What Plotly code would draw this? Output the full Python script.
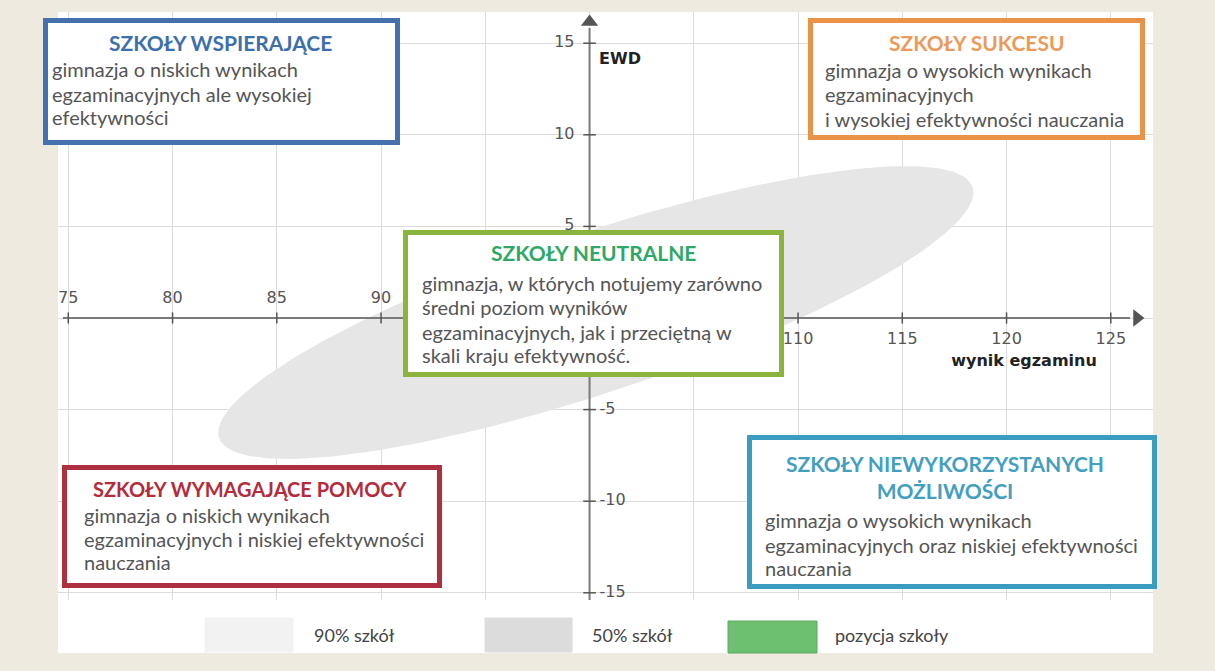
import numpy as np
import plotly.graph_objects as go

W, H = 1215, 671

# ---------------- data ----------------
x_tick_values = [75, 80, 85, 90, 95, 100, 105, 110, 115, 120, 125]
y_tick_values = [-15, -10, -5, 0, 5, 10, 15]
x_labels_above = [75, 80, 85, 90]
x_labels_below = [110, 115, 120, 125]
y_labels_left = [5, 10, 15]
y_labels_right = [-15, -10, -5]

x_axis_title = "wynik egzaminu"
y_axis_title = "EWD"

# 50% schools ellipse (centre, major/minor semi-axis vectors in data units)
ellipse_center = (100.3, 0.3)
ellipse_major = (18.07, 6.84)
ellipse_minor = (1.21, -4.14)

box_titles = [
    "SZKOŁY WSPIERAJĄCE",
    "SZKOŁY SUKCESU",
    "SZKOŁY NEUTRALNE",
    "SZKOŁY WYMAGAJĄCE POMOCY",
    "SZKOŁY NIEWYKORZYSTANYCH<br>MOŻLIWOŚCI",
]
box_bodies = [
    ["gimnazja o niskich wynikach", "egzaminacyjnych ale wysokiej", "efektywności"],
    ["gimnazja o wysokich wynikach", "egzaminacyjnych", "i wysokiej efektywności nauczania"],
    ["gimnazja, w których notujemy zarówno", "średni poziom wyników",
     "egzaminacyjnych, jak i przeciętną w", "skali kraju efektywność."],
    ["gimnazja o niskich wynikach", "egzaminacyjnych i niskiej efektywności", "nauczania"],
    ["gimnazja o wysokich wynikach", "egzaminacyjnych oraz niskiej efektywności", "nauczania"],
]
legend_labels = ["90% szkół", "50% szkół", "pozycja szkoły"]

# ---------------- styles / layout positions ----------------
box_border_colors = ["#4471AE", "#EB9249", "#8AB43E", "#AE2F3F", "#3A9CC1"]
box_title_colors = ["#3D6FAB", "#EA9B5A", "#2FA867", "#B22C3C", "#449FBF"]
# outer pixel rectangles (x0, y0, x1, y1)
box_rects = [
    (43, 18, 400, 145),
    (808, 18, 1145, 140),
    (403, 230, 784, 377),
    (62, 465, 442, 588),
    (747, 435, 1157, 589),
]
title_pos = [(221, 43), (977, 42), (593, 253), (251, 489), (945, 477)]
title_sizes = [21, 21, 21, 20, 21]
body_left = [50, 823, 420, 82, 763]
body_line_y = [
    [69, 94, 117],
    [70, 94, 119],
    [283, 307, 332, 355],
    [515, 539, 562],
    [520, 545, 568],
]
legend_swatch_rects = [(205, 618, 293, 652), (485, 618, 572, 652), (728, 621, 817, 653)]
legend_swatch_colors = ["#F2F2F2", "#DCDCDC", "#6CC070"]
legend_swatch_lines = ["#F2F2F2", "#DCDCDC", "#5DAA62"]
legend_text_x = [312, 590, 833]
legend_text_y = 635

BEIGE = "#EEEAE0"
AXIS_COL = "#7A7A7A"
FONT = "Lato"
BODY_SIZE = 20

# pixel mapping of the reference
X0PX, XPX_PER = 68.3, 20.85   # px of x=75 and px per unit
Y0PX, YPX_PER = 318.0, 18.32  # px of y=0 and px per unit
PLOT_L, PLOT_R, PLOT_T, PLOT_B = 58, 1153, 12, 600

def xv(px):
    return 75 + (px - X0PX) / XPX_PER

def yv(py):
    return (Y0PX - py) / YPX_PER

def XP(px):
    return px / W

def YP(py):
    return 1 - py / H

fig = go.Figure()

# ellipse (50% szkół)
t = np.linspace(0, 2 * np.pi, 241)
ex = ellipse_center[0] + np.cos(t) * ellipse_major[0] + np.sin(t) * ellipse_minor[0]
ey = ellipse_center[1] + np.cos(t) * ellipse_major[1] + np.sin(t) * ellipse_minor[1]
fig.add_trace(go.Scatter(x=ex, y=ey, mode="lines", fill="toself",
                         fillcolor="#E6E6E6", line=dict(width=0, color="#E6E6E6"),
                         hoverinfo="skip", showlegend=False))

# axis lines
x_line_start, x_line_end, x_arrow = xv(63), xv(1130), xv(1137)
y_line_bottom, y_line_top, y_arrow = yv(600), yv(28), yv(22)
fig.add_trace(go.Scatter(x=[x_line_start, x_line_end], y=[0, 0], mode="lines",
                         line=dict(color=AXIS_COL, width=2), hoverinfo="skip", showlegend=False))
fig.add_trace(go.Scatter(x=[100, 100], y=[y_line_bottom, y_line_top], mode="lines",
                         line=dict(color=AXIS_COL, width=2), hoverinfo="skip", showlegend=False))
fig.add_trace(go.Scatter(x=[x_arrow], y=[0], mode="markers",
                         marker=dict(symbol="triangle-right", size=15, color="#555"),
                         hoverinfo="skip", showlegend=False))
fig.add_trace(go.Scatter(x=[100], y=[y_arrow], mode="markers",
                         marker=dict(symbol="triangle-up", size=15, color="#555"),
                         hoverinfo="skip", showlegend=False))

# tick marks
fig.add_trace(go.Scatter(x=x_tick_values, y=[0] * len(x_tick_values), mode="markers",
                         marker=dict(symbol="line-ns", size=8, line=dict(width=1.5, color="#555")),
                         hoverinfo="skip", showlegend=False))
fig.add_trace(go.Scatter(x=[100] * len(y_tick_values), y=y_tick_values, mode="markers",
                         marker=dict(symbol="line-ew", size=9, line=dict(width=1.5, color="#555")),
                         hoverinfo="skip", showlegend=False))

# tick labels
tick_font = dict(family="DejaVu Sans", size=16, color="#555")
fig.add_trace(go.Scatter(x=x_labels_above, y=[19 / YPX_PER] * len(x_labels_above), mode="text",
                         text=[str(v) for v in x_labels_above], textposition="middle center",
                         textfont=tick_font, hoverinfo="skip", showlegend=False))
fig.add_trace(go.Scatter(x=x_labels_below, y=[-22 / YPX_PER] * len(x_labels_below), mode="text",
                         text=[str(v) for v in x_labels_below], textposition="middle center",
                         textfont=tick_font, hoverinfo="skip", showlegend=False))
fig.add_trace(go.Scatter(x=[100 - 15 / XPX_PER] * len(y_labels_left), y=y_labels_left, mode="text",
                         text=[str(v) for v in y_labels_left], textposition="middle left",
                         textfont=tick_font, hoverinfo="skip", showlegend=False))
fig.add_trace(go.Scatter(x=[100 + 10 / XPX_PER] * len(y_labels_right), y=y_labels_right, mode="text",
                         text=[str(v) for v in y_labels_right], textposition="middle right",
                         textfont=tick_font, hoverinfo="skip", showlegend=False))

# axis titles
title_font = dict(family="DejaVu Sans", size=16, color="#222", weight="bold")
fig.add_trace(go.Scatter(x=[xv(620)], y=[yv(60)], mode="text", text=[y_axis_title],
                         textposition="middle center", textfont=title_font,
                         hoverinfo="skip", showlegend=False))
fig.add_trace(go.Scatter(x=[xv(1024)], y=[yv(362)], mode="text", text=[x_axis_title],
                         textposition="middle center", textfont=title_font,
                         hoverinfo="skip", showlegend=False))

shapes = []
annotations = []

# white legend strip
shapes.append(dict(type="rect", xref="paper", yref="paper", layer="below",
                   x0=XP(PLOT_L), x1=XP(PLOT_R), y0=YP(653), y1=YP(PLOT_B),
                   fillcolor="white", line=dict(width=0)))

# boxes
BW = 5
for i, (x0, y0, x1, y1) in enumerate(box_rects):
    shapes.append(dict(type="rect", xref="paper", yref="paper", layer="above",
                       x0=XP(x0 + BW / 2), x1=XP(x1 - BW / 2),
                       y0=YP(y1 - BW / 2), y1=YP(y0 + BW / 2),
                       fillcolor="white", line=dict(color=box_border_colors[i], width=BW)))
    tx, ty = title_pos[i]
    annotations.append(dict(xref="paper", yref="paper", x=XP(tx), y=YP(ty),
                            xanchor="center", yanchor="middle", showarrow=False,
                            text=box_titles[i], align="center",
                            font=dict(family=FONT, size=title_sizes[i], color=box_title_colors[i],
                                      weight="bold")))
    for line, ly in zip(box_bodies[i], body_line_y[i]):
        annotations.append(dict(xref="paper", yref="paper", x=XP(body_left[i]), y=YP(ly),
                                xanchor="left", yanchor="middle", showarrow=False,
                                text=line, align="left",
                                font=dict(family=FONT, size=BODY_SIZE, color="#555")))

# legend
for i, (x0, y0, x1, y1) in enumerate(legend_swatch_rects):
    shapes.append(dict(type="rect", xref="paper", yref="paper", layer="above",
                       x0=XP(x0), x1=XP(x1), y0=YP(y1), y1=YP(y0),
                       fillcolor=legend_swatch_colors[i],
                       line=dict(color=legend_swatch_lines[i], width=1)))
    annotations.append(dict(xref="paper", yref="paper", x=XP(legend_text_x[i]), y=YP(legend_text_y),
                            xanchor="left", yanchor="middle", showarrow=False,
                            text=legend_labels[i],
                            font=dict(family=FONT, size=18, color="#444")))

fig.update_layout(
    width=W, height=H,
    margin=dict(l=0, r=0, t=0, b=0, pad=0),
    paper_bgcolor=BEIGE, plot_bgcolor="white",
    shapes=shapes, annotations=annotations,
    showlegend=False,
    xaxis=dict(domain=[XP(PLOT_L), XP(PLOT_R)], range=[xv(PLOT_L), xv(PLOT_R)],
               tick0=75, dtick=5, showgrid=True, gridcolor="#DCDCDC", gridwidth=1,
               showticklabels=False, zeroline=False, showline=False, ticks="", fixedrange=True),
    yaxis=dict(domain=[YP(PLOT_B), YP(PLOT_T)], range=[yv(PLOT_B), yv(PLOT_T)],
               tick0=0, dtick=5, showgrid=True, gridcolor="#DCDCDC", gridwidth=1,
               showticklabels=False, zeroline=False, showline=False, ticks="", fixedrange=True),
)

fig.write_html(
    "out.html",
    config={"displayModeBar": False},
    post_script="document.body.style.margin='0';document.body.style.padding='0';"
                "document.body.style.background='" + BEIGE + "';",
)
